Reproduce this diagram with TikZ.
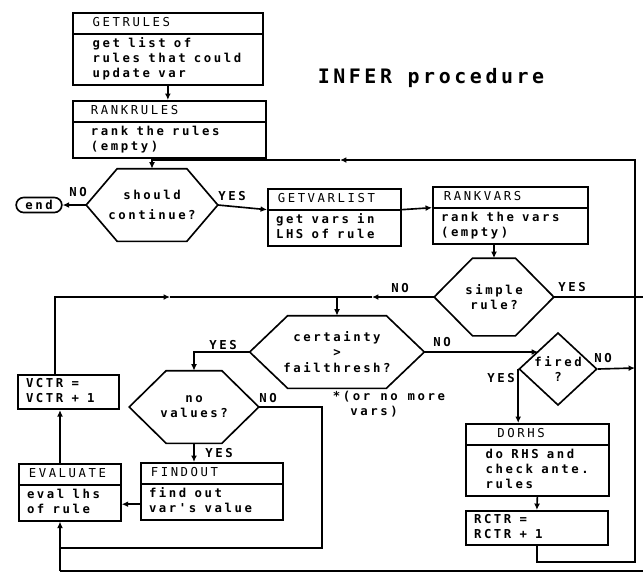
\documentclass[tikz,border=0pt]{standalone}
\usepackage{fontspec}
\newfontfamily\dotfont[LetterSpace=21]{DejaVu Sans Mono}
\newfontfamily\bigdotfont[LetterSpace=18]{DejaVu Sans Mono}
\usetikzlibrary{shapes.multipart,shapes.geometric,shapes.misc,arrows.meta}

\tikzset{
  arr/.style={-{Latex[length=5.5pt,width=5pt]}},
  proc/.style={rectangle split, rectangle split parts=2, draw, inner xsep=7pt,
    inner ysep=1.7pt, align=left, text width=#1, anchor=north west},
  cnt/.style={draw, inner xsep=7pt, inner ysep=1.7pt, align=left,
    text width=#1, anchor=north west},
  test/.style={inner sep=0pt, align=center},
  lbl/.style={inner sep=1pt},
}
\newcommand{\bl}{\spaceskip=7pt\xspaceskip=7pt\relax\strut}
\newcommand{\hd}[2][1.5pt]{{\mdseries\bl\hspace*{#1}#2}}
\newcommand{\ind}{\hspace*{10pt}}
\newcommand{\hexa}[2]{\draw (#1.west) -- ([xshift=#2]#1.north west)
  -- ([xshift=-#2]#1.north east) -- (#1.east) -- ([xshift=-#2]#1.south east)
  -- ([xshift=#2]#1.south west) -- cycle;}

\begin{document}
\begin{tikzpicture}[x=0.03cm,y=-0.03cm,line width=1.4pt,
    font=\dotfont\bfseries\fontsize{10.5}{13}\selectfont]
    \useasboundingbox (0,0) rectangle (643,575);
    \clip (0,0) rectangle (643,575);
    \node[font=\bigdotfont\bfseries\fontsize{17}{20}\selectfont] (title) at (431,78) {INFER procedure};

    \node[proc=5.21cm] (getrules) at (72,12) {\hd[10pt]{GETRULES}\nodepart{two}\bl\ind get list of\\\ind rules that could\\\ind update var\strut};
    \node[proc=5.30cm] (rankrules) at (72,100) {\hd[8.5pt]{RANKRULES}\nodepart{two}\bl\hspace*{8.5pt}rank the rules\\\hspace*{8.5pt}(empty)\strut};
    \node[proc=3.50cm] (getvarlist) at (267,188) {\hd{GETVARLIST}\nodepart{two}\bl get vars in\\LHS of rule\strut};
    \node[proc=4.16cm] (rankvars) at (432,186) {\hd[2.5pt]{RANKVARS}\nodepart{two}\bl rank the vars\\(empty)\strut};
    \node[proc=2.57cm] (evaluate) at (18,463) {\hd{EVALUATE}\nodepart{two}\bl eval lhs\\of rule\strut};
    \node[proc=3.77cm] (findout) at (140,462) {\hd{FINDOUT}\nodepart{two}\bl find out\\var's value\strut};
    \node[proc=3.80cm] (dorhs) at (465,423) {\hd[20pt]{DORHS}\nodepart{two}\bl\ind do RHS and\\\ind check ante.\\\ind rules\strut};
    \node[cnt=3.77cm] (rctr) at (465,510) {\bl RCTR =\\RCTR + 1\strut};
    \node[cnt=2.54cm] (vctr) at (17,374) {\bl VCTR =\\VCTR + 1\strut};

    \node[test, minimum width=3.9cm, minimum height=2.13cm] (should) at (152,205) {should\\[4pt]continue?};
    \hexa{should}{0.93cm}
    \node[test, minimum width=3.54cm, minimum height=2.28cm] (simple) at (494,297) {simple\\rule?};
    \hexa{simple}{1.15cm}
    \node[test, minimum width=5.19cm, minimum height=2.13cm] (cert) at (337,352) {certainty\\>\\failthresh?};
    \hexa{cert}{1.14cm}
    \node[test, minimum width=3.84cm, minimum height=2.13cm] (novals) at (194,407) {no\\values?};
    \hexa{novals}{1.11cm}
    \node[diamond, draw, test, minimum width=2.34cm, minimum height=2.16cm] (fired) at (558,369) {fired\\?};
    \node[rounded rectangle, draw, minimum width=1.44cm, minimum height=0.45cm, inner sep=1pt] (endnode) at (39,205) {end};

    \coordinate (topr) at (635,160);
    \coordinate (topm) at (340,160);
    \coordinate (botr) at (635,562);
    \coordinate (edgetop) at (650,297);
    \coordinate (edgebot) at (650,571);
    \coordinate (botl) at (60,571);
    \coordinate (joinl) at (60,548);
    \coordinate (nor) at (322,548);
    \coordinate (leftup) at (55,297);
    \coordinate (midl) at (170,297);
    \coordinate (midr) at (372,297);
    \coordinate (firedr) at (635,368);

    \draw[arr] (getrules.south) -- (getrules.south |- rankrules.north);
    \draw (rankrules.south -| should.north) -- (should.north |- topm);
    \draw[arr] (rctr.south) |- (botr) -- (topr) -- (topm);
    \draw[arr] (topm) -- (should.north |- topm) -- (should.north);
    \draw[arr] (should.west) -- (endnode.east);
    \draw[arr] (should.east) -- (getvarlist.text split west);
    \draw[arr] (getvarlist.text split east) -- (rankvars.text split west);
    \draw[arr] (simple.north |- rankvars.south) -- (simple.north);
    \draw[arr] (simple.west) -- (midr);
    \draw (midr) -- (cert.north |- midr);
    \draw[arr] (leftup |- vctr.north) -- (leftup) -- (midl);
    \draw (midl) -- (cert.north |- midl);
    \draw[arr] (cert.north |- midl) -- (cert.north);
    \draw (simple.east) -- (edgetop) -- (edgebot) -- (botl);
    \draw[arr] (botl) -- (evaluate.south -| botl);
    \draw[arr] (cert.west) -| (novals.north);
    \draw[arr] (cert.east) -- (cert.east -| fired.north west);
    \draw (novals.east) -| (nor) -- (joinl);
    \draw[arr] (novals.south) -- (findout.north -| novals.south);
    \draw[arr] ([yshift=14pt]findout.south west) -- ([yshift=14pt]findout.south west -| evaluate.east);
    \draw[arr] (evaluate.north -| botl) -- (vctr.south -| botl);
    \draw[arr] (fired.west) -- (fired.west |- dorhs.north);
    \draw[arr] (fired.east) -- (firedr);
    \draw[arr] (dorhs.south) -- (rctr.north);

    \node[lbl] (noend) at (78,192) {NO};
    \node[lbl] (yescont) at (232,196) {YES};
    \node[lbl] (nosimple) at (400,288) {NO};
    \node[lbl] (yessimple) at (572,287) {YES};
    \node[lbl] (yescert) at (223,345) {YES};
    \node[lbl] (nocert) at (442,342) {NO};
    \node[lbl] (novalsno) at (268,398) {NO};
    \node[lbl] (novalsyes) at (219,453) {YES};
    \node[lbl] (yesfired) at (501,378) {YES};
    \node[lbl] (nofired) at (603,358) {NO};
    \node[lbl, align=left, anchor=north west] (note) at (331,389) {*(or no more\\\phantom{*(}vars)};
\end{tikzpicture}
\end{document}
